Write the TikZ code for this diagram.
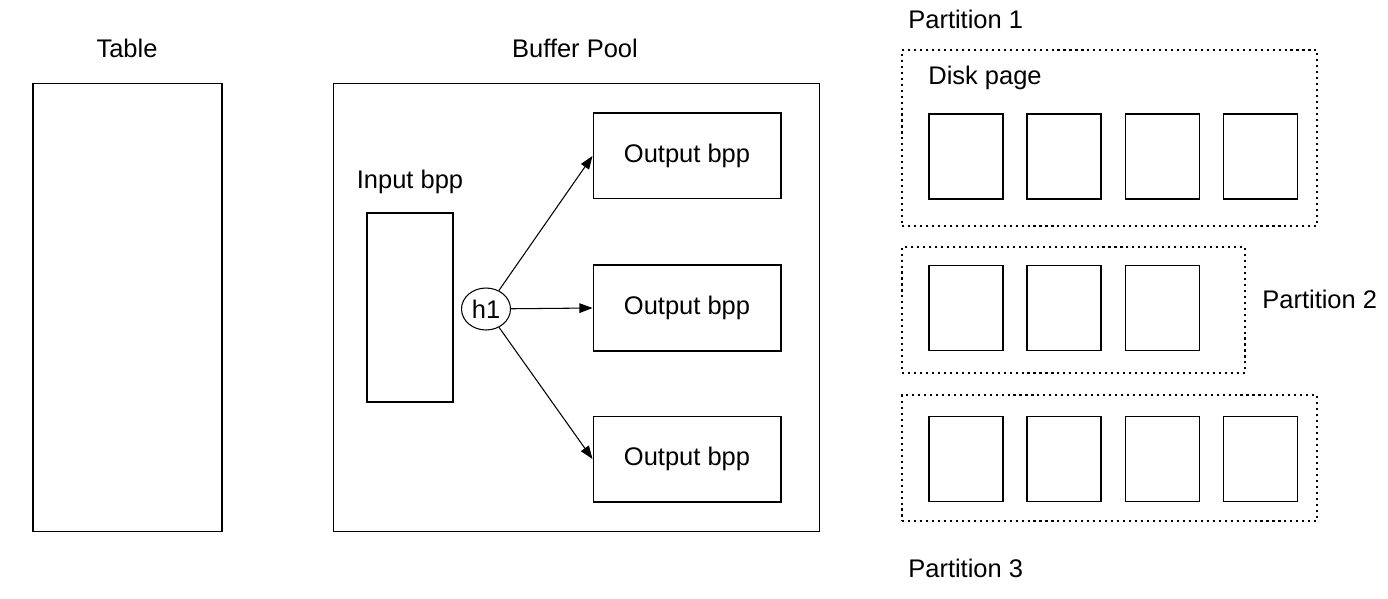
\documentclass[tikz,border=0pt]{standalone}
\usepackage{fontspec}
\setmainfont{Liberation Sans}
\usetikzlibrary{arrows.meta, positioning, shapes.geometric}

\begin{document}
\begin{tikzpicture}[
    x=0.02cm, y=-0.02cm,
    font=\fontsize{14.5}{17}\selectfont,
    frame/.style={rectangle, draw, line width=0.6pt, minimum width=3.78cm, minimum height=8.98cm, inner sep=0pt},
    inbox/.style={rectangle, draw, line width=0.6pt, minimum width=1.72cm, minimum height=3.78cm, inner sep=0pt},
    outbox/.style={rectangle, draw, line width=0.6pt, minimum width=3.76cm, minimum height=1.72cm, align=center},
    page/.style={rectangle, draw, line width=0.8pt, minimum width=1.48cm, minimum height=1.70cm, inner sep=0pt},
    part/.style={rectangle, draw, line width=0.7pt, dash pattern=on 1.2pt off 2.2pt, inner sep=0pt},
    hashnode/.style={ellipse, draw, line width=0.6pt, minimum width=0.98cm, minimum height=0.84cm, inner sep=0pt},
    lbl/.style={inner sep=0pt},
    arrow/.style={-{Triangle[length=7.5pt, width=5.5pt]}, line width=0.6pt}
]
\useasboundingbox (0,0) rectangle (1388,598);

% table and buffer pool
\node[frame] (table) at (127.5,307.5) {};
\node[lbl] (tablelbl) at (127,48) {Table};
\node[frame, minimum width=9.74cm] (pool) at (576.5,307.5) {};
\node[lbl] (poollbl) at (575,48) {Buffer Pool};

\node[inbox] (input) at (410,307.5) {};
\node[lbl] (inputlbl) at (410,182) {Input bpp};
\node[hashnode] (h1) at (486,309) {h1};

\node[outbox] (out2) at (687,308) {Output bpp};
\node[outbox, above=1.3cm of out2] (out1) {Output bpp};
\node[outbox, below=1.28cm of out2] (out3) {Output bpp};

\draw[arrow] (h1) -- (out1.west);
\draw[arrow] (h1) -- (out2.west);
\draw[arrow] (h1) -- (out3.west);

% partitions on disk
\node[part, minimum width=8.3cm, minimum height=3.52cm] (part1) at (1109.5,138) {};
\node[part, minimum width=6.86cm, minimum height=2.52cm] (part2) at (1073.5,310) {};
\node[part, minimum width=8.3cm, minimum height=2.52cm] (part3) at (1109.5,458) {};
\node[lbl, anchor=west] (part1lbl) at (908,19) {Partition 1};
\node[lbl, anchor=west] (part2lbl) at (1262,299) {Partition 2};
\node[lbl, anchor=west] (part3lbl) at (908,568) {Partition 3};
\node[lbl, anchor=west] (disklbl) at (928,78) {Disk page};

\node[page] (p11) at (966,156.5) {};
\node[page, right=0.455cm of p11] (p12) {};
\node[page, right=0.455cm of p12] (p13) {};
\node[page, right=0.455cm of p13] (p14) {};

\node[page] (p21) at (966,308) {};
\node[page, right=0.455cm of p21] (p22) {};
\node[page, right=0.455cm of p22] (p23) {};

\node[page] (p31) at (966,459) {};
\node[page, right=0.455cm of p31] (p32) {};
\node[page, right=0.455cm of p32] (p33) {};
\node[page, right=0.455cm of p33] (p34) {};
\end{tikzpicture}
\end{document}
